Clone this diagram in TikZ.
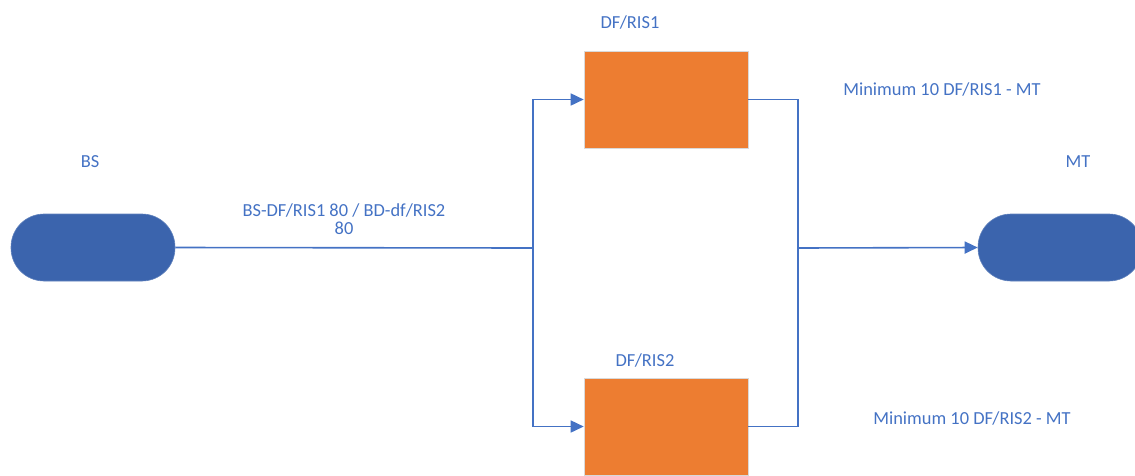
\documentclass[tikz,border=0pt]{standalone}
\usepackage{fontspec}
\setmainfont{Carlito}
\usetikzlibrary{arrows.meta}
\definecolor{lblue}{HTML}{4472C4}
\definecolor{pillblue}{HTML}{3B64AD}
\definecolor{orng}{HTML}{ED7D31}
\begin{document}
\begin{tikzpicture}[x=1pt,y=-1pt,
  pillnode/.style={draw=pillblue!80!white,line width=0.6pt,fill=pillblue,minimum width=164pt,minimum height=67pt,rounded corners=33pt,inner sep=0pt},
  boxnode/.style={draw=black!15,line width=0.6pt,fill=orng,minimum width=164pt,minimum height=97pt,inner sep=0pt},
  lbl/.style={text=lblue,font=\fontsize{18.4}{18}\selectfont,inner sep=0pt,align=center},
  conn/.style={draw=lblue,line width=1.6pt},
  arr/.style={conn,-{Triangle[length=13pt,width=12pt]}}]
\useasboundingbox (0,0) rectangle (1135,475);
\clip (0,0) rectangle (1135,475);
\node[pillnode] (bs) at (93,247.5) {};
\node[pillnode] (mt) at (1060,247.5) {};
\node[boxnode] (r1) at (666,99.5) {};
\node[boxnode] (r2) at (666,426.5) {};
\coordinate (j) at (533,248);
\coordinate (k) at (798,248);
\node[lbl] (tbs) at (90,162) {BS};
\node[lbl] (tmt) at (1078,162) {MT};
\node[lbl] (tr1) at (630,22) {DF/RIS1};
\node[lbl] (tr2) at (645,360) {DF/RIS2};
\node[lbl] (tm1) at (942,89) {Minimum 10 DF/RIS1 - MT};
\node[lbl] (tm2) at (972,418) {Minimum 10 DF/RIS2 - MT};
\node[lbl] (tl) at (344,219) {BS-DF/RIS1 80 / BD-df/RIS2\\80};
\draw[conn] (bs.east) -- (j);
\draw[arr] (j) |- (r1.west);
\draw[arr] (j) |- (r2.west);
\draw[conn] (r1.east) -| (k);
\draw[conn] (r2.east) -| (k);
\draw[arr] (k) -- (mt.west);
\end{tikzpicture}
\end{document}
